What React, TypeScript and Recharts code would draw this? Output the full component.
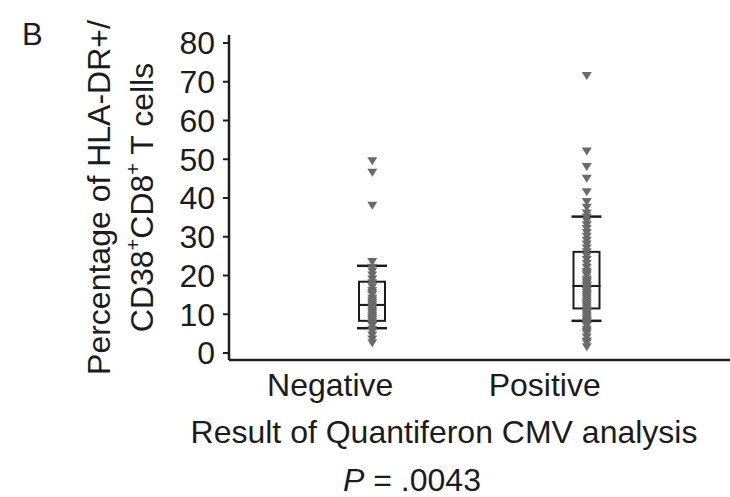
import { Bar, ComposedChart, Label, Scatter, XAxis, YAxis } from "recharts";

// box plot summary per Quantiferon result
const groups = ["Negative", "Positive"];
const whiskerLow = [6.4, 8.3];
const whiskerHigh = [22.5, 35.2];
const q1 = [8.3, 11.5];
const median = [12.4, 17.3];
const q3 = [18.4, 26.1];

// individual patients (% HLA-DR+/CD38+ of CD8+ T cells)
const negativeValues = [
  2.5, 3.5, 4.5, 5.5, 6, 7, 7.5, 8, 8.5, 9, 9.5, 10, 10.5, 11, 11.5, 12, 12.5,
  13, 13.5, 14, 15, 15.5, 16, 17, 18, 19, 20, 21, 22, 23.5, 38, 46.5, 49.5,
];
const positiveValues = [
  1.5, 2.5, 3, 4, 5, 5.5, 6, 7, 7.5, 8, 8.5, 9, 9.5, 10, 10.5, 11, 11.5, 12,
  12.5, 13, 13.5, 14, 14.5, 15, 15.5, 16, 16.5, 17, 17.5, 18, 18.5, 19, 20,
  20.5, 21, 22, 23, 24, 25, 26, 27, 28, 29, 30, 31, 32, 33, 34, 35, 36, 37.5,
  39, 41.5, 45, 48, 52, 71.5,
];

const yTicks = [0, 10, 20, 30, 40, 50, 60, 70, 80];

const boxData = groups.map((group, i) => ({
  group,
  whisker: [whiskerLow[i], whiskerHigh[i]],
  base: q1[i],
  lower: median[i] - q1[i],
  upper: q3[i] - median[i],
}));

const pointData = [
  ...negativeValues.map((value) => ({ group: "Negative", value })),
  ...positiveValues.map((value) => ({ group: "Positive", value })),
];

const font = "'Liberation Sans', Arial, Helvetica, sans-serif";
const ink = "#1c1c1c";

function Whisker(props: any) {
  const { x, y, width, height } = props;
  const cx = x + width / 2;
  return (
    <g stroke={ink}>
      <line x1={cx} x2={cx} y1={y} y2={y + height} strokeWidth={2} />
      <line x1={x} x2={x + width} y1={y} y2={y} strokeWidth={2.5} />
      <line x1={x} x2={x + width} y1={y + height} y2={y + height} strokeWidth={2.5} />
    </g>
  );
}

function BoxPart(props: any) {
  const { x, y, width, height } = props;
  return (
    <rect x={x} y={y} width={width} height={height} fill="none" stroke={ink} strokeWidth={2} />
  );
}

function Point(props: any) {
  const { cx, cy } = props;
  return <path d={`M${cx - 5},${cy - 4}L${cx + 5},${cy - 4}L${cx},${cy + 4}Z`} fill="#6a6a6a" />;
}

function GroupTick(props: any) {
  const { x, y, payload } = props;
  return (
    <text x={x - 42} y={y} dy="0.71em" textAnchor="middle" fontSize={32} fontFamily={font} fill={ink}>
      {payload.value}
    </text>
  );
}

function YTitle(props: any) {
  const { viewBox } = props;
  const cy = viewBox.y + viewBox.height / 2;
  return (
    <g fontFamily={font} fontSize={32} fill={ink}>
      <text x={22} y={45} fontSize={31}>B</text>
      <text x={110} y={cy} textAnchor="middle" transform={`rotate(-90, 110, ${cy})`}>
        Percentage of HLA-DR+/
      </text>
      <text x={153} y={cy} textAnchor="middle" transform={`rotate(-90, 153, ${cy})`}>
        CD38
        <tspan fontSize={20} dy={-13}>+</tspan>
        <tspan dy={13}>CD8</tspan>
        <tspan fontSize={20} dy={-13}>+</tspan>
        <tspan dy={13}> T cells</tspan>
      </text>
    </g>
  );
}

function XTitle(props: any) {
  const { viewBox } = props;
  return (
    <g fontFamily={font} fontSize={32} fill={ink}>
      <text x={viewBox.x + 215} y={viewBox.y + 83} textAnchor="middle">
        Result of Quantiferon CMV analysis
      </text>
      <text x={viewBox.x + 183} y={viewBox.y + 131} textAnchor="middle">
        <tspan fontStyle="italic">P</tspan> = .0043
      </text>
    </g>
  );
}

export default function App() {
  return (
    <div style={{ position: "absolute", left: 0, top: 0, width: 730, height: 497, background: "#fff" }}>
      <ComposedChart
        width={730}
        height={497}
        data={boxData}
        margin={{ top: 35, right: 0, bottom: 0, left: 0 }}
      >
        <XAxis
          xAxisId="box"
          dataKey="group"
          type="category"
          allowDuplicatedCategory={false}
          padding={{ left: 36, right: 36 }}
          height={0}
          hide
        />
        <XAxis
          xAxisId="cat"
          dataKey="group"
          type="category"
          allowDuplicatedCategory={false}
          padding={{ left: 36, right: 36 }}
          height={137}
          tickLine={false}
          tickSize={0}
          tickMargin={13}
          tick={<GroupTick />}
          axisLine={{ stroke: ink, strokeWidth: 2.5 }}
        >
          <Label content={<XTitle />} />
        </XAxis>
        <YAxis
          dataKey="value"
          type="number"
          domain={[0, 80]}
          ticks={yTicks}
          interval={0}
          padding={{ top: 8, bottom: 7 }}
          width={229}
          tickSize={6}
          tickMargin={8}
          tick={{ fontSize: 32, fontFamily: font, fill: ink }}
          tickLine={{ stroke: ink, strokeWidth: 2 }}
          axisLine={{ stroke: ink, strokeWidth: 2.5 }}
        >
          <Label content={<YTitle />} />
        </YAxis>
        <Bar
          xAxisId="cat"
          dataKey="whisker"
          barSize={30}
          shape={<Whisker />}
          isAnimationActive={false}
        />
        <Bar xAxisId="box" dataKey="base" stackId="box" barSize={26} fill="none" isAnimationActive={false} />
        <Bar xAxisId="box" dataKey="lower" stackId="box" barSize={26} shape={<BoxPart />} isAnimationActive={false} />
        <Bar xAxisId="box" dataKey="upper" stackId="box" barSize={26} shape={<BoxPart />} isAnimationActive={false} />
        <Scatter
          xAxisId="cat"
          data={pointData}
          shape={<Point />}
          isAnimationActive={false}
        />
      </ComposedChart>
    </div>
  );
}
